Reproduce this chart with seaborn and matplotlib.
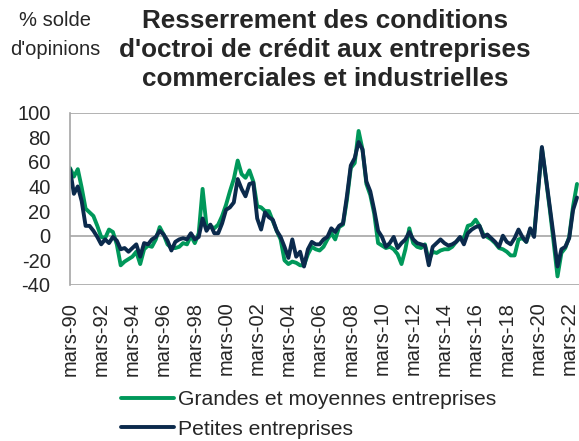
import numpy as np
import pandas as pd
import matplotlib
matplotlib.use("Agg")
import matplotlib.pyplot as plt
import seaborn as sns
from matplotlib.lines import Line2D

# Quarterly series, first point = mars-90
grandes = [55, 48, 54, 39, 22, 19, 16, 8, -1, -2, 5, 3, -7, -24, -21, -19, -17, -13, -23, -11, -8, -9, -3, 7, 1, -7,
           -10, -10, -9, -6, -7, 0, -6, 2, 38, 8, 8, 6, 9, 16, 25, 36, 46, 61, 50, 47, 53, 44, 24, 23, 20, 20,
           12, 4, -3, -20, -23, -21, -22, -24, -24, -15, -9, -11, -12, -9, -3, 2, -3, 7, 9, 29, 55, 59, 85, 70, 42, 33,
           18, -6, -8, -10, -9, -11, -15, -23, -11, 6, -6, -9, -10, -7, -20, -13, -14, -12, -11, -11, -9, -5, -2, -2, 8, 9, 13,
           8, 1, -1, -3, -6, -10, -11, -13, -16, -16, -3, -2, -5, 5, 1, 36, 71, 47, 22, -5, -33, -14, -10, -1, 24, 42]
petites = [54, 34, 40, 28, 8, 8, 4, -1, -7, -3, -6, -1, -4, -11, -10, -13, -10, -7, -17, -6, -7, -3, -1, 4, 1, -4,
           -12, -5, -3, -2, -3, 2, -3, -1, 14, 4, 9, 2, 2, 10, 21, 23, 27, 46, 38, 32, 42, 43, 14, 5, 19, 15,
           13, 4, -1, -9, -18, -3, -17, -13, -25, -11, -5, -7, -7, -3, -1, 6, 3, 8, 10, 32, 57, 63, 76, 70, 44, 36,
           21, 4, -1, -9, -6, -1, -10, -6, -3, 3, -3, -6, -7, -8, -24, -9, -6, -3, -6, -8, -7, -5, -1, -7, 2, 5, 7,
           8, -1, 1, -2, -5, -9, 0, -5, -7, -2, 5, -1, -5, 6, -1, 36, 72, 48, 24, 0, -25, -11, -9, -2, 21, 31]

series_names = ["Grandes et moyennes entreprises", "Petites entreprises"]
tick_labels = ["mars-90", "mars-92", "mars-94", "mars-96", "mars-98", "mars-00", "mars-02", "mars-04",
               "mars-06", "mars-08", "mars-10", "mars-12", "mars-14", "mars-16", "mars-18", "mars-20", "mars-22"]
y_ticks = [100, 80, 60, 40, 20, 0, -20, -40]

colors = {"Grandes et moyennes entreprises": "#00985A", "Petites entreprises": "#0B2A4C"}

n = len(grandes)
df = pd.DataFrame({
    "t": list(range(n)) * 2,
    "val": grandes + petites,
    "serie": [series_names[0]] * n + [series_names[1]] * n,
})

sns.set_style("white")
plt.rcParams["font.family"] = ["Liberation Sans", "DejaVu Sans"]

fig = plt.figure(figsize=(5.79, 4.41), dpi=100)
ax = fig.add_axes([70 / 579, 1 - 285 / 441, (579 - 70) / 579, (285 - 112.5) / 441])

for h in [100, 0, -40]:
    ax.axhline(h, color="#A6A6A6", lw=1.2, zorder=0)

sns.lineplot(data=df, x="t", y="val", hue="serie", palette=colors, linewidth=2.8,
             ax=ax, legend=False, sort=False)

ax.set_xlim(0, (579 - 70) / 3.9)
ax.set_ylim(-40, 100)
ax.set_yticks(y_ticks)
ax.set_yticklabels([str(v) for v in y_ticks], fontsize=14.5)
ax.set_xticks(list(range(0, 8 * len(tick_labels), 8)))
ax.set_xticklabels(tick_labels, rotation=90, fontsize=14.5)
ax.tick_params(axis="both", length=0)
ax.tick_params(axis="x", pad=12)
ax.tick_params(axis="y", pad=14)
ax.set_xlabel("")
ax.set_ylabel("")
for s in ["top", "right", "bottom"]:
    ax.spines[s].set_visible(False)
ax.spines["left"].set_color("#A6A6A6")
ax.spines["left"].set_linewidth(1.2)

fig.text(325 / 579, 1 - 50 / 441,
         "Resserrement des conditions\nd'octroi de crédit aux entreprises\ncommerciales et industrielles",
         ha="center", va="center", fontsize=18.8, fontweight="bold", linespacing=1.24)
fig.text(55 / 579, 1 - 35 / 441, "% solde\nd'opinions", ha="center", va="center",
         fontsize=14.5, linespacing=1.68)

handles = [Line2D([0], [0], color=colors[s], lw=2.8) for s in series_names]
fig.legend(handles, series_names, loc="upper left", bbox_to_anchor=(121 / 579, 1 - 390 / 441),
           frameon=False, fontsize=15.2, handlelength=2.5, handletextpad=0.2,
           labelspacing=0.5, borderpad=0, borderaxespad=0)

fig.savefig("out.png", dpi=100)
